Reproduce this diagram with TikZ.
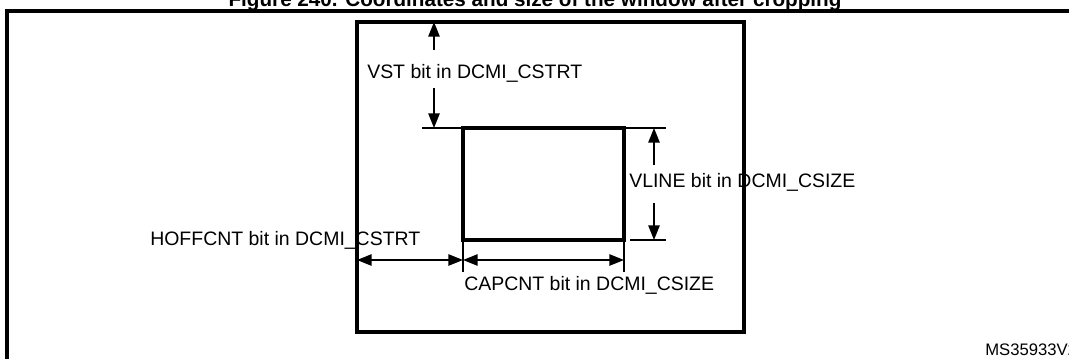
\documentclass[tikz,border=0pt]{standalone}
\usepackage{fontspec}
\setmainfont{Liberation Sans}
\usetikzlibrary{arrows.meta, positioning}
\tikzset{
  font=\fontsize{14.6}{17}\selectfont,           % dimension texts
  frame/.style    = {line width=2.7pt},          % outer and window borders
  cropbox/.style  = {line width=2.7pt},
  extline/.style  = {line width=1.3pt},          % extension lines
  dimline/.style  = {line width=1.3pt, -{Triangle[length=11pt,width=8.5pt]}},
  twoway/.style   = {line width=1.3pt,
                     {Triangle[length=11pt,width=8.5pt]}-{Triangle[length=11pt,width=8.5pt]}},
  dimtext/.style  = {inner sep=0pt, anchor=west}
}

\begin{document}
\begin{tikzpicture}[x=0.75pt, y=-0.75pt]
  \useasboundingbox (0,0) rectangle (1069,358);
  \clip (0,0) rectangle (1069,358);
  % caption (cut off at the top)
  \node[font=\fontsize{15.5}{18}\selectfont\bfseries, anchor=base] (title) at (535,6)
    {Figure 240. Coordinates and size of the window after cropping};
  % frames
  \draw[frame] (7,370) |- (1080,11);
  \coordinate (win nw) at (357,22);
  \coordinate (win se) at (744,332);
  \draw[frame] (win nw) rectangle (win se);
  \coordinate (crop nw) at (463,128);
  \coordinate (crop se) at (624,240);
  \draw[cropbox] (crop nw) rectangle (crop se);
  % extension lines
  \coordinate (vst end)  at (422,128);
  \coordinate (top end)  at (666,128);
  \coordinate (bot from) at (630,240);
  \coordinate (bot end)  at (666,240);
  \draw[extline] (vst end) -- (crop nw);
  \draw[extline] (crop nw -| crop se) -- (top end);
  \draw[extline] (bot from) -- (bot end);
  \coordinate (cap l) at (463,272);
  \coordinate (cap r) at (624,272);
  \draw[extline] (crop nw |- crop se) -- (cap l);
  \draw[extline] (crop se) -- (cap r);
  % texts
  \node[dimtext] (vst)   at (367,73)  {VST bit in DCMI\_CSTRT};
  \node[dimtext] (vline) at (629,182) {VLINE bit in DCMI\_CSIZE};
  \node[dimtext] (hoff)  at (150,240) {HOFFCNT bit in DCMI\_CSTRT};
  \node[dimtext] (cap)   at (464,285) {CAPCNT bit in DCMI\_CSIZE};
  \node[dimtext, font=\fontsize{12.5}{14}\selectfont] (ref) at (985,350) {MS35933V2};
  % VST arrows
  \coordinate (vst a) at (434,50);
  \coordinate (vst b) at (434,88);
  \draw[dimline] (vst a) -- (vst a |- win nw);
  \draw[dimline] (vst b) -- (vst b |- crop nw);
  % VLINE arrows
  \coordinate (vl a) at (654,165);
  \coordinate (vl b) at (654,203);
  \draw[dimline] (vl a) -- (vl a |- top end);
  \draw[dimline] (vl b) -- (vl b |- bot end);
  % HOFFCNT and CAPCNT arrows
  \coordinate (h l) at (357,260);
  \coordinate (h m) at (463,260);
  \coordinate (h r) at (624,260);
  \draw[twoway] (h l) -- (h m);
  \draw[twoway] (h m) -- (h r);
\end{tikzpicture}
\end{document}
